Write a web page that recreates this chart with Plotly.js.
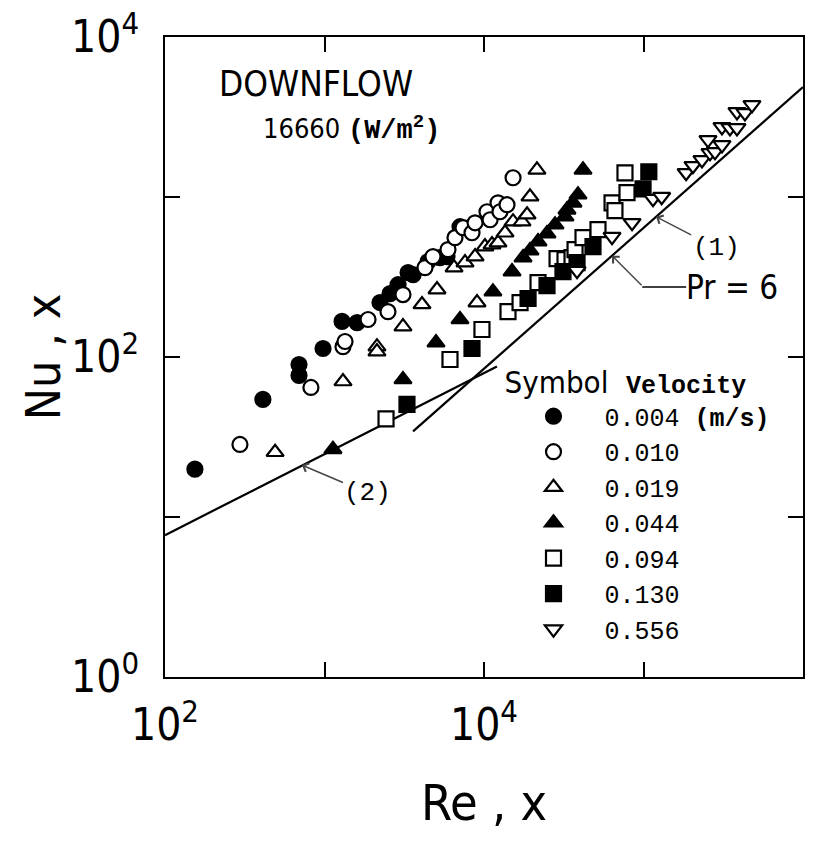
<!DOCTYPE html>
<html>
<head>
<meta charset="utf-8">
<script src="https://cdn.plot.ly/plotly-3.0.1.min.js"></script>
<style>html,body{margin:0;padding:0;background:#fff;}#chart{width:833px;height:848px;}</style>
</head>
<body>
<div id="chart"></div>
<script>
// ---- data (Re_x, Nu_x) ----
var velocities = ['0.004', '0.010', '0.019', '0.044', '0.094', '0.130', '0.556'];

var re004 = [154, 411, 692, 692, 979, 1288, 1600, 2228, 2576, 2891, 3342, 3593, 4456, 5296, 5862, 7072];
var nu004 = [19.9, 54.3, 76.7, 89.8, 113, 167, 164, 219, 249, 283, 337, 327, 395, 418, 424, 652];

var re010 = [295, 822, 1306, 1345, 1875, 2500, 3105, 4266, 4788, 5947, 6577, 7386, 8410, 8790, 10440, 10920, 12240, 12590, 13940, 15210];
var nu010 = [28.4, 64.5, 116, 125, 171.5, 192, 245.5, 362, 424, 469, 557, 643, 598, 690, 809, 721, 920, 809, 895, 1319];

var re019 = [490, 1306, 2133, 2133, 3105, 4085, 5075, 6490, 7603, 8790, 9040, 10140, 11230, 12240, 13550, 15210, 17310, 18620, 19420, 21480];
var nu019 = [25.4, 70.3, 116, 108, 155, 213, 264, 362, 389, 424, 219, 490, 504, 518, 598, 701, 701, 775, 1004, 1479];

var re044 = [1130, 3105, 5000, 7072, 11380, 14990, 17570, 19420, 21810, 24830, 27880, 32200, 33130, 36140, 38850, 41760];
var nu044 = [26.5, 72.4, 123, 171.5, 256, 342, 418, 462, 526, 590, 671, 753, 832, 920, 1033, 1479];

var re094 = [2431, 6120, 9710, 14140, 16830, 21810, 28710, 32200, 35640, 37230, 41760, 51840, 63510, 66220, 76540, 78820];
var nu094 = [41, 96.5, 148.5, 192, 219, 292, 412, 406, 418, 469, 557, 625, 920, 821, 1417, 1064];

var re130 = [3289, 8410, 18890, 24830, 31270, 38310, 48230, 99350, 108000];
var nu130 = [50.5, 113, 232, 279, 342, 389, 490, 1125, 1438];

var re556 = [38310, 63510, 84780, 114700, 130000, 185000, 204200, 232600, 261200, 253700, 280700, 310500, 310500, 348500, 385500, 385500, 432500, 478700];
var nu556 = [346, 565, 690, 975, 1004, 1417, 1567, 1707, 1889, 2277, 1916, 2118, 2744, 2705, 2705, 3404, 3357, 3767];

// correlation lines (1) turbulent and (2) laminar, Pr = 6
var line1Re = [3590, 1000000];
var line1Nu = [34.3, 4860];
var line2Re = [100, 12050];
var line2Nu = [7.7, 87.3];

// tick labels (labelled decades) and unlabelled decade ticks
var yTickVals = [1, 100, 10000];
var yTickText = ['10<sup>0</sup>', '10<sup>2</sup>', '10<sup>4</sup>'];
var yMinorVals = [10, 1000];
var xTickVals = [100, 10000, 1000000];
var xTickText = ['10<sup>2</sup>', '10<sup>4</sup>', '10<sup>6</sup>'];
var xMinorVals = [1000, 100000];

// ---- styling ----
var NARROW = '"Liberation Sans Narrow", "DejaVu Sans Condensed", "Liberation Sans", sans-serif';
var MONO = '"Liberation Mono", "DejaVu Sans Mono", monospace';
var MS = 15;

function series(x, y, name, symbol, filled) {
  return {
    type: 'scatter', mode: 'markers', x: x, y: y, name: name,
    legendgroup: name,
    marker: {
      symbol: symbol, size: MS,
      color: filled ? 'black' : 'white',
      line: {color: 'black', width: 2.2}
    },
    hoverinfo: 'x+y+name'
  };
}

var traces = [
  {type: 'scatter', mode: 'lines', x: line1Re, y: line1Nu, showlegend: false,
   line: {color: 'black', width: 2.2}, hoverinfo: 'skip'},
  {type: 'scatter', mode: 'lines', x: line2Re, y: line2Nu, showlegend: false,
   line: {color: 'black', width: 2.2}, hoverinfo: 'skip'},
  series(re004, nu004, velocities[0] + ' <b>(m/s)</b>', 'circle', true),
  series(re010, nu010, velocities[1], 'circle', false),
  series(re019, nu019, velocities[2], 'triangle-up', false),
  series(re044, nu044, velocities[3], 'triangle-up', true),
  series(re094, nu094, velocities[4], 'square', false),
  series(re130, nu130, velocities[5], 'square', true),
  series(re556, nu556, velocities[6], 'triangle-down', false)
];

function minorTicks(vals) {
  return {tickmode: 'array', tickvals: vals, ticks: 'inside', ticklen: 15, tickwidth: 2, tickcolor: 'black', showgrid: false};
}

var axisCommon = {
  type: 'log', showgrid: false, zeroline: false, automargin: false,
  showline: true, linecolor: 'black', linewidth: 2.2, mirror: 'allticks',
  ticks: 'inside', ticklen: 15, tickwidth: 2, tickcolor: 'black',
  tickfont: {family: NARROW, size: 44, color: 'black'}
};

var layout = {
  width: 833, height: 848,
  margin: {l: 165, r: 30, t: 37, b: 171},
  paper_bgcolor: 'white', plot_bgcolor: 'white',
  showlegend: true,
  xaxis: Object.assign({}, axisCommon, {
    range: [2, 6], tickmode: 'array', tickvals: xTickVals, ticktext: xTickText,
    minor: minorTicks(xMinorVals),
    ticklabelstandoff: 8,
    title: {text: 'Re , x', font: {family: NARROW, size: 50, color: 'black'}, standoff: 36}
  }),
  yaxis: Object.assign({}, axisCommon, {
    range: [0, 4], tickmode: 'array', tickvals: yTickVals, ticktext: yTickText,
    minor: minorTicks(yMinorVals),
    ticklabelstandoff: 15,
    title: {text: 'Nu , x', font: {family: NARROW, size: 48, color: 'black'}, standoff: 0}
  }),
  legend: {
    x: 0.529, y: 0.506, xanchor: 'left', yanchor: 'top',
    bgcolor: 'rgba(0,0,0,0)', borderwidth: 0,
    itemwidth: 92, tracegroupgap: 0, traceorder: 'normal',
    font: {family: MONO, size: 25, color: 'black'},
    title: {
      text: 'Symbol&nbsp;&nbsp;<span style="font-family:Liberation Mono, monospace;font-weight:bold;font-size:25px">Velocity</span>',
      font: {family: NARROW, size: 31, color: 'black'}
    }
  },
  annotations: [
    {xref: 'paper', yref: 'paper', x: (316 - 165) / 639, y: (677 - 84) / 640,
     xanchor: 'center', yanchor: 'middle', showarrow: false,
     text: 'DOWNFLOW', font: {family: NARROW, size: 35, color: 'black'}},
    {xref: 'paper', yref: 'paper', x: (352 - 165) / 639, y: (677 - 128) / 640,
     xanchor: 'center', yanchor: 'middle', showarrow: false,
     text: '16660 <span style="font-family:Liberation Mono, monospace;font-weight:bold">(W/m<sup>2</sup>)</span>',
     font: {family: NARROW, size: 27, color: 'black'}},
    // (1) label
    {x: Math.log10(120000), y: Math.log10(752), xref: 'x', yref: 'y',
     text: '(1)', showarrow: true, arrowhead: 4, arrowsize: 1.3, arrowwidth: 1.4,
     ax: 60, ay: 31, font: {family: MONO, size: 26, color: 'black'}},
    // Pr = 6 bent leader
    {x: Math.log10(63500), y: Math.log10(429), xref: 'x', yref: 'y',
     text: '', showarrow: true, arrowhead: 4, arrowsize: 1.3, arrowwidth: 1.4,
     ax: 31, ay: 31, standoff: 0},
    {xref: 'paper', yref: 'paper', x: (733 - 165) / 639, y: (677 - 287) / 640,
     xanchor: 'center', yanchor: 'middle', showarrow: false,
     text: 'Pr = 6', font: {family: NARROW, size: 33, color: 'black'}},
    // (2) label
    {x: Math.log10(722), y: Math.log10(21.1), xref: 'x', yref: 'y',
     text: '(2)', showarrow: true, arrowhead: 4, arrowsize: 1.3, arrowwidth: 1.4,
     ax: 66, ay: 28, font: {family: MONO, size: 26, color: 'black'}}
  ],
  shapes: [
    {type: 'line', xref: 'paper', yref: 'paper',
     x0: (643 - 165) / 639, x1: (687 - 165) / 639, y0: (677 - 287) / 640, y1: (677 - 287) / 640,
     line: {color: 'black', width: 1.4}}
  ]
};

Plotly.newPlot('chart', traces, layout, {displayModeBar: false, staticPlot: true}).then(function () {
  // nudge the y-axis title a little closer to the tick labels, as in the original figure
  var t = document.querySelector('.ytitle');
  if (t) {
    var tr = t.getAttribute('transform') || '';
    t.setAttribute('transform', 'translate(5,0) ' + tr);
  }
});
</script>
</body>
</html>
